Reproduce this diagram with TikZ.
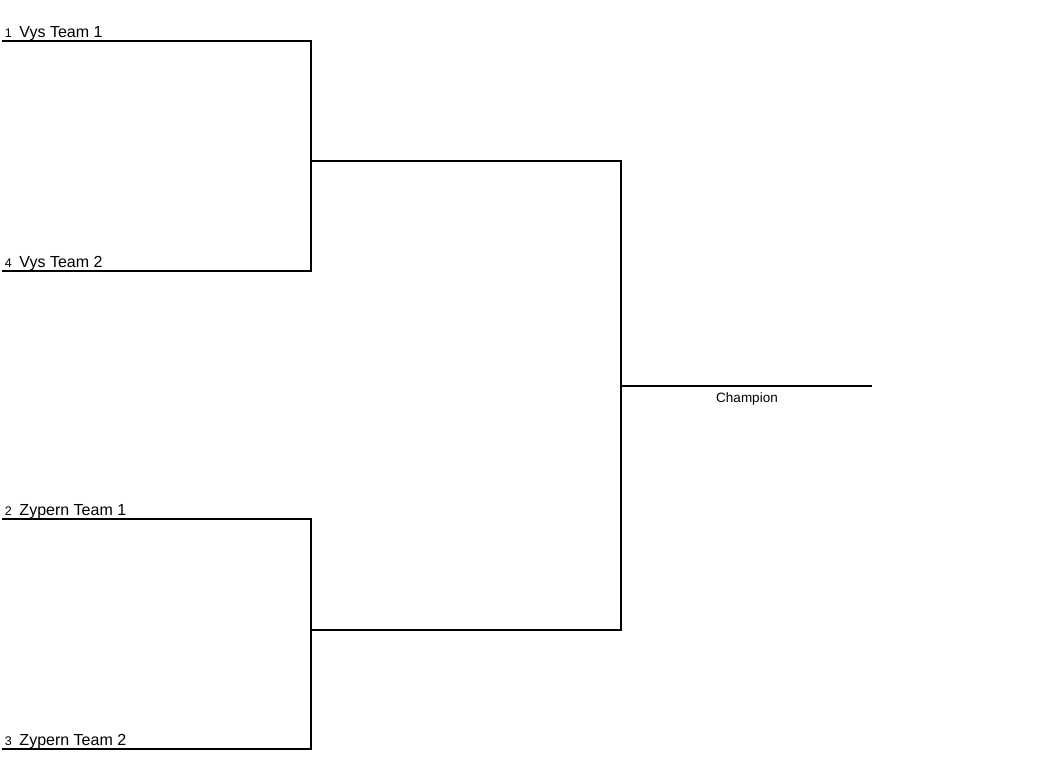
\documentclass[tikz,border=0pt]{standalone}
\usepackage{fontspec}
\setmainfont{Liberation Sans}
\usetikzlibrary{positioning}

\begin{document}
\begin{tikzpicture}[x=1pt, y=-1pt, line width=2pt,
	seed/.style={anchor=base west, inner sep=0pt, font=\fontsize{12.5}{14}\selectfont},
	team/.style={anchor=base west, inner sep=0pt, font=\fontsize{16}{19}\selectfont}]
	\useasboundingbox (0,0) rectangle (1054,758);
	% first round
	\coordinate (t1a) at (2,40.5);   \coordinate (t1b) at (311,40.5);
	\coordinate (t4a) at (2,270.5);  \coordinate (t4b) at (311,270.5);
	\coordinate (t2a) at (2,518.5);  \coordinate (t2b) at (311,518.5);
	\coordinate (t3a) at (2,748.5);  \coordinate (t3b) at (311,748.5);
	% final
	\coordinate (f1a) at (311,160.5); \coordinate (f1b) at (621,160.5);
	\coordinate (f2a) at (311,629.5); \coordinate (f2b) at (621,629.5);
	\coordinate (ca) at (621,385.5);  \coordinate (cb) at (872,385.5);

	\node (s1) [seed] at (4,37) {1};
	\node (n1) [team] at (18.5,37) {Vys Team 1};
	\node (s4) [seed] at (4,267) {4};
	\node (n4) [team] at (18.5,267) {Vys Team 2};
	\node (s2) [seed] at (4,515) {2};
	\node (n2) [team] at (18.5,515) {Zypern Team 1};
	\node (s3) [seed] at (4,745) {3};
	\node (n3) [team] at (18.5,745) {Zypern Team 2};
	\node (champ) [anchor=base, inner sep=0pt, font=\fontsize{13.5}{16}\selectfont] at (747,402) {Champion};

	\draw (t1a) -- (t1b) -- (t4b) -- (t4a);
	\draw (t2a) -- (t2b) -- (t3b) -- (t3a);
	\draw (f1a) -- (f1b) -- (f2b) -- (f2a);
	\draw (ca) -- (cb);
\end{tikzpicture}
\end{document}
